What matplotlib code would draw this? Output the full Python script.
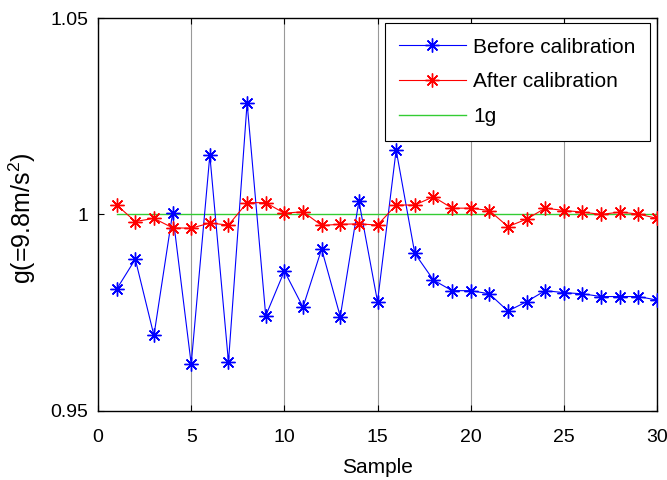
import matplotlib
matplotlib.use("Agg")
import matplotlib.pyplot as plt
import numpy as np

samples = list(range(1, 31))
before = [0.9810, 0.9886, 0.9692, 1.0003, 0.9619, 1.0151, 0.9624, 1.0284, 0.9742, 0.9856,
          0.9764, 0.9912, 0.9740, 1.0034, 0.9778, 1.0164, 0.9901, 0.9833, 0.9806, 0.9806,
          0.9798, 0.9754, 0.9778, 0.9806, 0.9801, 0.9798, 0.9791, 0.9791, 0.9791, 0.9782]
after = [1.0024, 0.9982, 0.9990, 0.9966, 0.9965, 0.9978, 0.9973, 1.0030, 1.0030, 1.0003,
         1.0007, 0.9972, 0.9975, 0.9976, 0.9973, 1.0024, 1.0024, 1.0045, 1.0016, 1.0016,
         1.0010, 0.9969, 0.9988, 1.0016, 1.0010, 1.0006, 1.0000, 1.0006, 1.0001, 0.9990]
ref_1g = [1.0] * 30
xticks = [0, 5, 10, 15, 20, 25, 30]
yticks = [0.95, 1.0, 1.05]
yticklabels = ["0.95", "1", "1.05"]

plt.rcParams['font.family'] = ['Liberation Sans', 'DejaVu Sans']
plt.rcParams['mathtext.fontset'] = 'custom'
plt.rcParams['mathtext.rm'] = 'Liberation Sans'
plt.rcParams['mathtext.it'] = 'Liberation Sans'

fig = plt.figure(figsize=(6.67, 4.8), dpi=100)
ax = fig.add_axes([0.147, 0.144, 0.838, 0.8185])

asterisk = (8, 2, 0)
ax.plot(samples, before, color='#0000ff', lw=0.8, marker=asterisk, ms=10, mew=1.0,
        label='Before calibration', zorder=3)
ax.plot(samples, after, color='#ff0000', lw=0.8, marker=asterisk, ms=10, mew=1.0,
        label='After calibration', zorder=4)
ax.plot(samples, ref_1g, color='#33cc33', lw=1.0, label='1g', zorder=2)

ax.set_xlim(0, 30)
ax.set_ylim(0.95, 1.05)
ax.set_xticks(xticks)
ax.set_xticklabels([str(t) for t in xticks])
ax.set_yticks(yticks)
ax.set_yticklabels(yticklabels)
ax.tick_params(direction='in', top=True, right=True, labelsize=14, length=4, width=0.8)
ax.tick_params(axis='x', pad=13)
ax.tick_params(axis='y', pad=7)
ax.xaxis.grid(True, color='#999999', lw=0.8)
for s in ax.spines.values():
    s.set_linewidth(1.0)

ax.set_xlabel('Sample', fontsize=15)
ax.xaxis.set_label_coords(0.5, -0.12)
ax.set_ylabel('g(=9.8m/s$^{\\mathrm{2}}$)', fontsize=18)
ax.yaxis.set_label_coords(-0.107, 0.49)

leg = ax.legend(loc='upper right', bbox_to_anchor=(0.9875, 0.987), fontsize=15,
                fancybox=False, framealpha=1, edgecolor='black', borderaxespad=0,
                handlelength=3.2, handletextpad=0.35, labelspacing=0.75, borderpad=0.7)
leg.get_frame().set_linewidth(0.8)

fig.savefig('out.png', dpi=100)
